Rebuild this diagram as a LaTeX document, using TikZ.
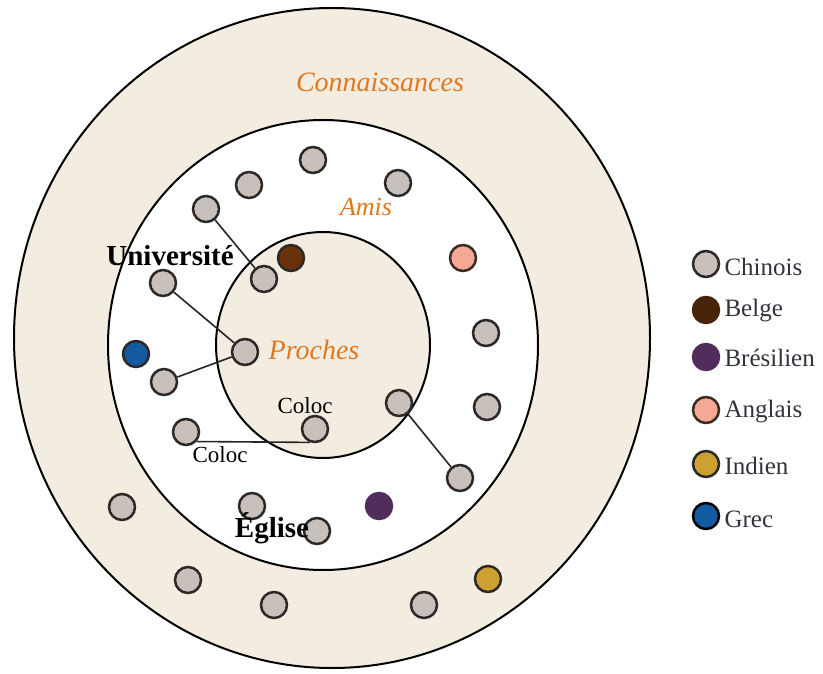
\documentclass[tikz,border=0pt]{standalone}
\usepackage{fontspec}
\setmainfont{Liberation Serif}

\definecolor{beige}{RGB}{243,236,224}
\definecolor{gris}{RGB}{200,192,186}
\definecolor{bord}{RGB}{45,40,40}
\definecolor{brun}{RGB}{105,50,10}
\definecolor{brunleg}{RGB}{72,36,8}
\definecolor{violet}{RGB}{80,45,90}
\definecolor{rose}{RGB}{245,168,150}
\definecolor{jaune}{RGB}{205,160,50}
\definecolor{bleu}{RGB}{20,90,160}
\definecolor{orangez}{RGB}{225,120,30}
\definecolor{texteleg}{RGB}{50,50,60}

\tikzstyle{pixfig}=[x=1pt,y=-1pt]
\tikzstyle{pers}=[circle,draw=bord,fill=gris,line width=2.5pt,minimum size=26pt,inner sep=0pt]
\tikzstyle{lien}=[line width=1.6pt,black!85]
\tikzstyle{cercle}=[line width=2pt]
\tikzstyle{zone}=[font=\itshape\fontsize{28}{30}\selectfont,text=orangez]
\tikzstyle{lieu}=[font=\bfseries\fontsize{29}{31}\selectfont]
\tikzstyle{coloc}=[font=\fontsize{23}{25}\selectfont]
\tikzstyle{leg}=[anchor=west,font=\fontsize{25}{27}\selectfont,text=texteleg]

\begin{document}
\begin{tikzpicture}[style=pixfig]
\useasboundingbox (0,0) rectangle (823,674);

% les trois cercles
\fill [beige] (332,338) ellipse (318pt and 330pt);
\fill [white] (323,345) ellipse (215pt and 225pt);
\fill [beige] (323,345) ellipse (107pt and 113pt);
\draw [cercle] (332,338) ellipse (318pt and 330pt);
\draw [cercle] (323,345) ellipse (215pt and 225pt);
\draw [cercle] (323,345) ellipse (107pt and 113pt);

% les personnes
\node[pers] (p1) at (313,160) {};
\node[pers] (p2) at (249,185) {};
\node[pers] (p3) at (398,183) {};
\node[pers] (u1) at (206,209) {};
\node[pers,fill=brun] (belge) at (291,258) {};
\node[pers] (u2) at (264,279) {};
\node[pers,fill=rose,draw=bord!80!brun] (anglais) at (463,258) {};
\node[pers] (u3) at (163,283) {};
\node[pers] (p4) at (486,333) {};
\node[pers,fill=bleu] (grec) at (136,354) {};
\node[pers] (u4) at (245,352) {};
\node[pers] (u5) at (164,382) {};
\node[pers] (e1) at (399,403) {};
\node[pers] (p5) at (487,407) {};
\node[pers] (c1) at (186,432) {};
\node[pers] (c2) at (315,429) {};
\node[pers] (e2) at (460,478) {};
\node[pers] (p6) at (122,507) {};
\node[pers] (g1) at (252,506) {};
\node[pers,fill=violet,draw=violet] (bresil) at (379,506) {};
\node[pers] (g2) at (317,531) {};
\node[pers] (p7) at (188,580) {};
\node[pers] (p8) at (274,605) {};
\node[pers] (p9) at (424,605) {};
\node[pers,fill=jaune] (indien) at (488,579) {};

% liens
\draw[lien] (u1) -- (u2);
\draw[lien] (u3) -- (u4);
\draw[lien] (u5) -- (u4);
\draw[lien] (c1.-42) -- (c2.-110);
\draw[lien] (e1) -- (e2);

% textes
\node[zone] (tconn) at (380,82) {Connaissances};
\node[zone,font=\itshape\fontsize{26}{28}\selectfont] (tamis) at (366,207) {Amis};
\node[zone] (tproches) at (314,350) {Proches};
\node[lieu] (tuniv) at (170,256) {Université};
\node[coloc] (tcoloc1) at (305,406) {Coloc};
\node[coloc] (tcoloc2) at (220,455) {Coloc};
\node[lieu] (teglise) at (272,528) {Église};

% legende
\node[pers] (lchinois) at (706,264) {};
\node[pers,fill=brunleg,draw=brunleg] (lbelge) at (706,310) {};
\node[pers,fill=violet,draw=violet] (lbresil) at (706,357) {};
\node[pers,fill=rose,draw=bord!80!brun] (langlais) at (706,410) {};
\node[pers,fill=jaune] (lindien) at (706,464) {};
\node[pers,fill=bleu,draw=black] (lgrec) at (706,516) {};
\node[leg] (tchinois) at (721,267) {Chinois};
\node[leg] (tbelge) at (721,311) {Belge};
\node[leg] (tbresil) at (721,358) {Brésilien};
\node[leg] (tanglais) at (721,412) {Anglais};
\node[leg] (tindien) at (721,466) {Indien};
\node[leg] (tgrec) at (721,519) {Grec};
\end{tikzpicture}
\end{document}
